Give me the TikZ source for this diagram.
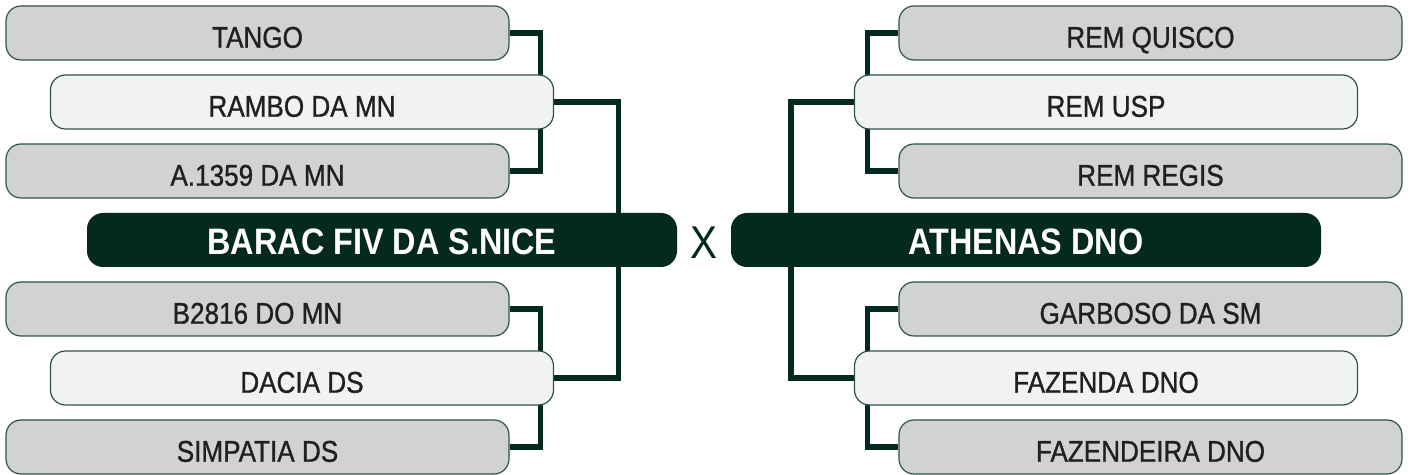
\documentclass[tikz,border=0pt]{standalone}
\usepackage{fontspec}
\usepackage{xcolor}
\usepackage{tikz}
\usetikzlibrary{positioning,backgrounds}
\newfontfamily\namefont[FakeStretch=0.87,FakeBold=0.9]{Liberation Sans}
\newfontfamily\headfont[FakeStretch=0.88]{Liberation Sans}
\definecolor{darkgreen}{HTML}{032A1A}
\definecolor{boxline}{HTML}{2E5343}
\definecolor{grandgray}{HTML}{D1D2D4}
\definecolor{parentgray}{HTML}{F1F2F4}
\definecolor{nametext}{HTML}{231F20}

\begin{document}
\begin{tikzpicture}[
  x=0.5pt, y=-0.5pt,
  horsebox/.style={draw=boxline,line width=0.6pt,rounded corners=7.5pt,
    minimum width=251.5pt,minimum height=27pt,inner sep=0pt,
    text height=14.75pt,text depth=0pt,text=nametext,
    font=\namefont\fontsize{15}{18}\selectfont},
  grandbox/.style={horsebox,fill=grandgray},
  parentbox/.style={horsebox,fill=parentgray},
  animalbox/.style={fill=darkgreen,rounded corners=8pt,
    minimum width=295pt,minimum height=27pt,inner sep=0pt,
    text height=14.5pt,text depth=0pt,text=white,
    font=\headfont\bfseries\fontsize{18.4}{20}\selectfont},
  link/.style={draw=darkgreen,line width=2.6pt}
]
\useasboundingbox (0,0) rectangle (1410,475);

% left side
\node[grandbox] (tango) at (257.5,33) {TANGO};
\node[parentbox] (rambo) at (302,102) {RAMBO DA MN};
\node[grandbox] (a1359) at (257.5,171) {A.1359 DA MN};
\node[animalbox] (barac) at (382,240) {BARAC FIV DA S.NICE};
\node[grandbox] (b2816) at (257.5,309) {B2816 DO MN};
\node[parentbox] (dacia) at (302,378) {DACIA DS};
\node[grandbox] (simpatia) at (257.5,447) {SIMPATIA DS};

\node[text=darkgreen,inner sep=0pt,text height=16.5pt,text depth=0pt,
  font=\headfont\fontsize{23}{24}\selectfont] (vs) at (704,242) {X};

% right side
\node[grandbox] (quisco) at (1150.5,33) {REM QUISCO};
\node[parentbox] (remusp) at (1106,102) {REM USP};
\node[grandbox] (regis) at (1150.5,171) {REM REGIS};
\node[animalbox] (athenas) at (1026,240) {ATHENAS DNO};
\node[grandbox] (garboso) at (1150.5,309) {GARBOSO DA SM};
\node[parentbox] (fazenda) at (1106,378) {FAZENDA DNO};
\node[grandbox] (fazendeira) at (1150.5,447) {FAZENDEIRA DNO};

\begin{scope}[on background layer]
\draw[link] (tango.east) -- ++(31,0) |- (a1359.east);
\draw[link] (b2816.east) -- ++(31,0) |- (simpatia.east);
\draw[link] (rambo.east) -- ++(64,0) |- (dacia.east);
\draw[link] (quisco.west) -- ++(-31,0) |- (regis.west);
\draw[link] (garboso.west) -- ++(-31,0) |- (fazendeira.west);
\draw[link] (remusp.west) -- ++(-63,0) |- (fazenda.west);
\end{scope}
\end{tikzpicture}
\end{document}
